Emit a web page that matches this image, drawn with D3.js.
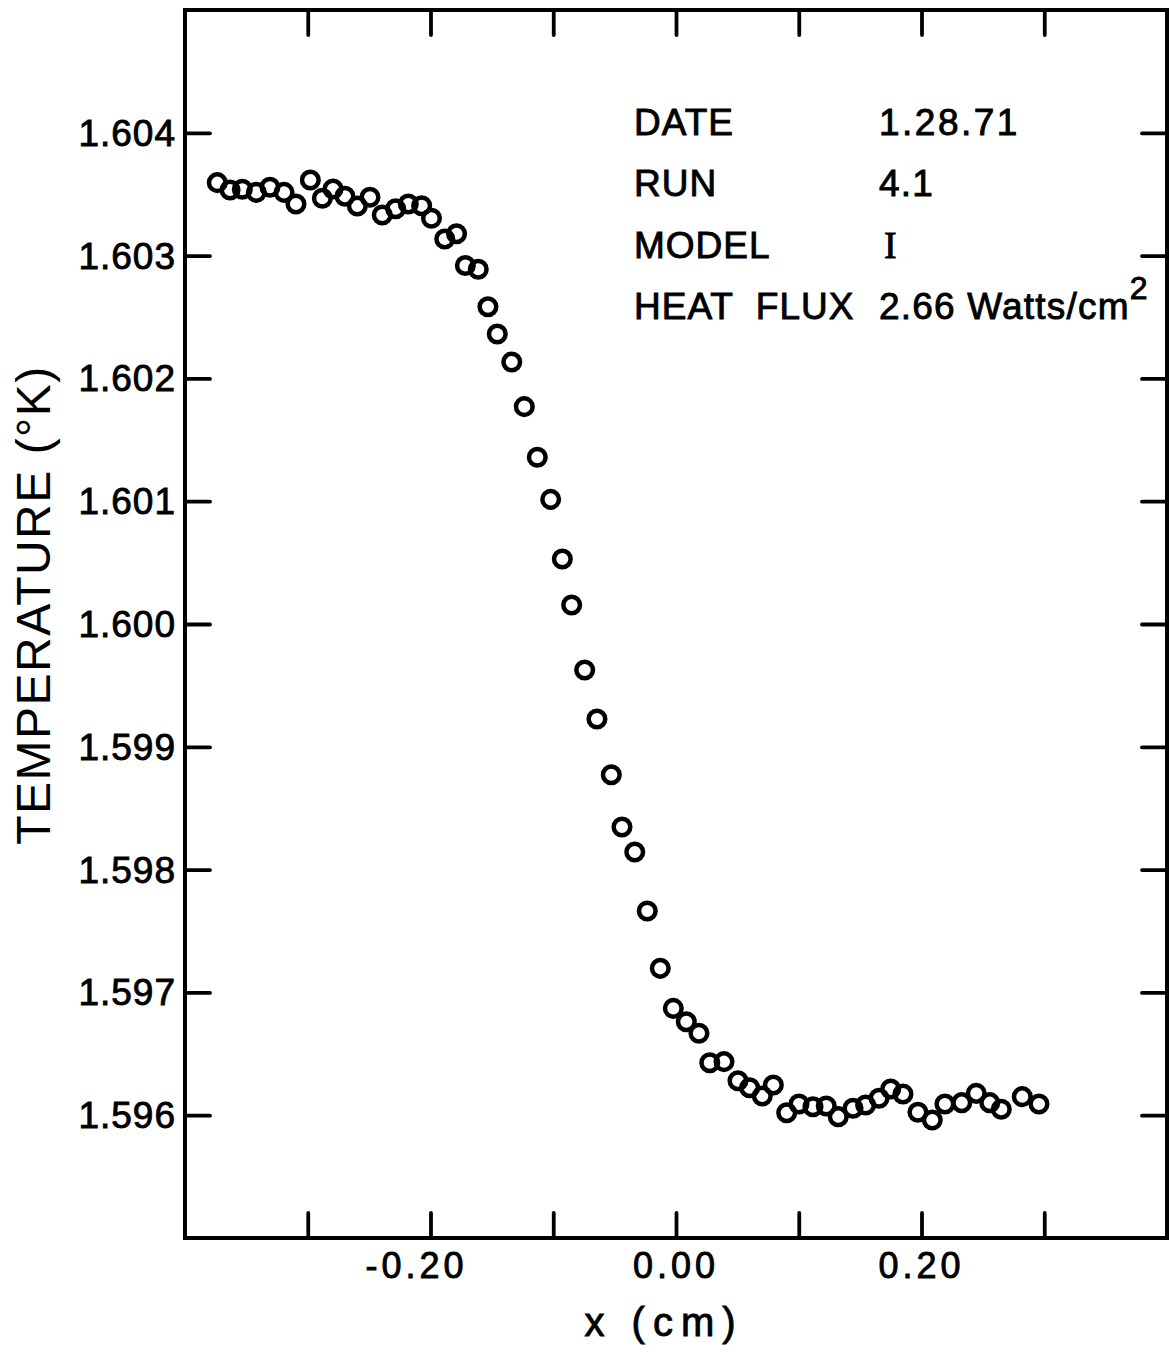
<!DOCTYPE html>
<html>
<head>
<meta charset="utf-8">
<script src="https://cdn.jsdelivr.net/npm/d3@7/dist/d3.min.js"></script>
<style>
  html, body { margin: 0; padding: 0; background: #fff; }
  svg { display: block; }
  text { font-family: "Liberation Sans", Arial, sans-serif; fill: #000; }
  .heavy { stroke: #000; stroke-width: 0.9px; }
</style>
</head>
<body>
<svg id="chart" width="1172" height="1352"></svg>
<script>
// Position x (cm) along the sample
const positions = [
  -0.3737, -0.3633, -0.3533, -0.3419, -0.3308, -0.3193, -0.3096, -0.2979, -0.2881, -0.2794,
  -0.2697, -0.2596, -0.2493, -0.2393, -0.2284, -0.2181, -0.2072, -0.1992, -0.1884, -0.1788,
  -0.1716, -0.1611, -0.1532, -0.1456, -0.1338, -0.1236, -0.1130, -0.1021, -0.0926, -0.0850,
  -0.0744, -0.0644, -0.0527, -0.0440, -0.0336, -0.0234, -0.0128, -0.0022, 0.0084, 0.0187,
  0.0275, 0.0391, 0.0505, 0.0600, 0.0703, 0.0793, 0.0902, 0.1002, 0.1116, 0.1224,
  0.1322, 0.1442, 0.1545, 0.1654, 0.1749, 0.1849, 0.1971, 0.2088, 0.2191, 0.2328,
  0.2446, 0.2556, 0.2650, 0.2821, 0.2957
];

// Measured temperature (°K) at each position
const temperatures = [
  1.603594, 1.603534, 1.603540, 1.603515, 1.603556, 1.603515, 1.603420, 1.603616, 1.603467, 1.603542,
  1.603483, 1.603404, 1.603475, 1.603331, 1.603382, 1.603420, 1.603406, 1.603304, 1.603135, 1.603178,
  1.602919, 1.602889, 1.602584, 1.602362, 1.602134, 1.601770, 1.601358, 1.601015, 1.600529, 1.600155,
  1.599625, 1.599226, 1.598773, 1.598347, 1.598143, 1.597663, 1.597196, 1.596870, 1.596761, 1.596667,
  1.596427, 1.596436, 1.596281, 1.596224, 1.596156, 1.596246, 1.596020, 1.596091, 1.596069, 1.596075,
  1.595988, 1.596056, 1.596083, 1.596138, 1.596213, 1.596173, 1.596024, 1.595961, 1.596091, 1.596102,
  1.596178, 1.596102, 1.596048, 1.596151, 1.596091
];

// Axis ticks and labels
const xTickValues = [-0.3, -0.2, -0.1, 0.0, 0.1, 0.2, 0.3];
const xLabelValues = [-0.2, 0.0, 0.2];
const xLabelTexts = ["-0.20", "0.00", "0.20"];
const yTickValues = [1.596, 1.597, 1.598, 1.599, 1.600, 1.601, 1.602, 1.603, 1.604];
const yLabelTexts = ["1.596", "1.597", "1.598", "1.599", "1.600", "1.601", "1.602", "1.603", "1.604"];

// Run annotation
const infoKeys = ["DATE", "RUN", "MODEL", "HEAT  FLUX"];
const infoValues = ["1.28.71", "4.1", "I", "2.66 Watts/cm"];

const xTitle = "x (cm)";
const yTitle = "TEMPERATURE (°K)";

const svg = d3.select("#chart");
const plotLeft = 185, plotRight = 1167, plotTop = 10, plotBottom = 1238;
const tickLen = 25;

const x = d3.scaleLinear().domain([-0.4, 0.4]).range([plotLeft, plotRight]);
const y = d3.scaleLinear().domain([1.595, 1.605]).range([plotBottom, plotTop]);

// Inward ticks on all four sides
function styleAxis(g) {
  g.select(".domain").remove();
  g.selectAll(".tick line").attr("stroke", "#000").attr("stroke-width", 3.8)
    .attr("stroke-linecap", "round");
  g.selectAll(".tick text").remove();
}
svg.append("g").attr("transform", `translate(0,${plotBottom})`)
  .call(d3.axisBottom(x).tickValues(xTickValues).tickSizeInner(-tickLen).tickSizeOuter(0))
  .call(styleAxis);
svg.append("g").attr("transform", `translate(0,${plotTop})`)
  .call(d3.axisTop(x).tickValues(xTickValues).tickSizeInner(-tickLen).tickSizeOuter(0))
  .call(styleAxis);
svg.append("g").attr("transform", `translate(${plotLeft},0)`)
  .call(d3.axisLeft(y).tickValues(yTickValues).tickSizeInner(-tickLen).tickSizeOuter(0))
  .call(styleAxis);
svg.append("g").attr("transform", `translate(${plotRight},0)`)
  .call(d3.axisRight(y).tickValues(yTickValues).tickSizeInner(-tickLen).tickSizeOuter(0))
  .call(styleAxis);

// Frame
svg.append("rect")
  .attr("x", plotLeft).attr("y", plotTop)
  .attr("width", plotRight - plotLeft).attr("height", plotBottom - plotTop)
  .attr("fill", "none").attr("stroke", "#000").attr("stroke-width", 4);

// X tick labels (digits centred on the tick, minus sign hanging left)
svg.append("g").selectAll("text")
  .data(xLabelValues)
  .join("text")
  .attr("class", "heavy")
  .attr("x", d => x(d) + (d < 0 ? -14 : 0))
  .attr("y", 1278)
  .attr("text-anchor", "middle")
  .style("font-size", "36px")
  .style("letter-spacing", "4px")
  .text((d, i) => xLabelTexts[i]);

// Y tick labels
svg.append("g").selectAll("text")
  .data(yTickValues)
  .join("text")
  .attr("class", "heavy")
  .attr("x", 176)
  .attr("y", d => y(d) + 13)
  .attr("text-anchor", "end")
  .style("font-size", "37px")
  .style("letter-spacing", "1px")
  .text((d, i) => yLabelTexts[i]);

// Axis titles
svg.append("text")
  .attr("class", "heavy")
  .attr("x", 664).attr("y", 1336)
  .attr("text-anchor", "middle")
  .style("font-size", "40px")
  .style("letter-spacing", "8px")
  .text(xTitle);

svg.append("text")
  .attr("transform", "translate(50,605) rotate(-90)")
  .attr("text-anchor", "middle")
  .style("font-size", "48px")
  .style("letter-spacing", "1.5px")
  .text(yTitle);

// Run information block
const info = svg.append("g");
infoKeys.forEach((k, i) => {
  const by = 135 + i * 61.3;
  info.append("text")
    .attr("class", "heavy")
    .attr("x", 634).attr("y", by)
    .style("font-size", "37px")
    .style("letter-spacing", "1px")
    .style("white-space", "pre")
    .attr("xml:space", "preserve")
    .text(k);
  const v = info.append("text")
    .attr("class", "heavy")
    .attr("x", k === "MODEL" ? 884 : 879).attr("y", by)
    .style("font-size", "37px")
    .style("letter-spacing", k === "DATE" ? "2.5px" : "1.2px")
    .text(infoValues[i]);
  if (k === "MODEL") v.style("font-family", "'Liberation Serif', serif").style("font-size", "38px");
  if (k === "HEAT  FLUX") {
    v.append("tspan").attr("dy", -20).style("font-size", "32px").text("2");
  }
});

// Data points: open circles
svg.append("g").selectAll("circle")
  .data(positions.map((p, i) => [p, temperatures[i]]))
  .join("circle")
  .attr("cx", d => x(d[0]))
  .attr("cy", d => y(d[1]))
  .attr("r", 8.3)
  .attr("fill", "none")
  .attr("stroke", "#000")
  .attr("stroke-width", 4.5);
</script>
</body>
</html>
